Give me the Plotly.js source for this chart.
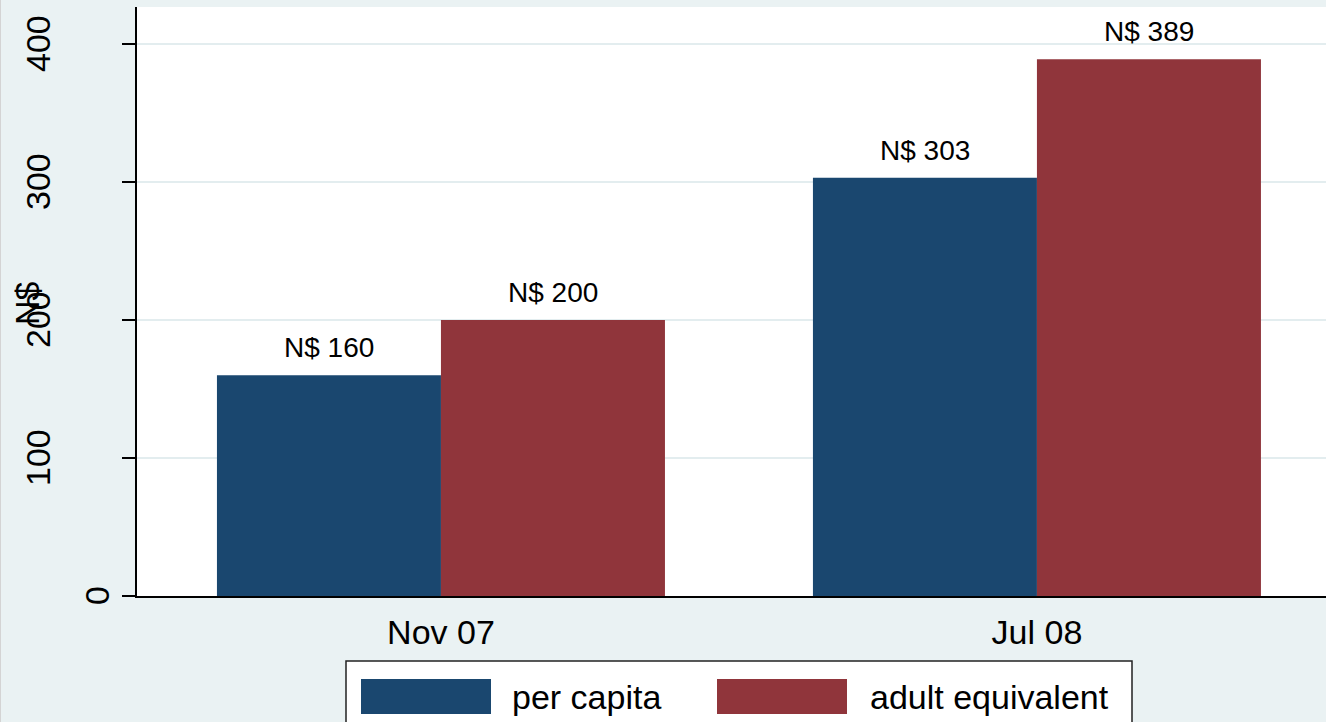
<!DOCTYPE html>
<html>
<head>
<meta charset="utf-8">
<script src="https://cdn.plot.ly/plotly-3.0.1.min.js"></script>
<style>
  html, body { margin: 0; padding: 0; background: #EAF2F3; }
  #chart { width: 1326px; height: 722px; }
</style>
</head>
<body>
<div id="chart"></div>
<script>
const categories = ['Nov 07', 'Jul 08'];
const perCapita = [160, 303];
const adultEquivalent = [200, 389];
const seriesNames = ['per capita', 'adult equivalent'];
const seriesColors = ['#1A476F', '#90353B'];
const yTickVals = [0, 100, 200, 300, 400];
const yTickText = ['0', '100', '200', '300', '400'];
const yTitle = 'N$';
const labelPrefix = 'N$ ';

const FONT = 'Liberation Sans, Arial, sans-serif';
const W = 1326, H = 722;
const M = {l: 137, r: 0, t: 7, b: 126};
const plotW = W - M.l - M.r, plotH = H - M.t - M.b;
const px2x = px => (px - M.l) / plotW;
const py2y = py => (H - M.b - py) / plotH;

const series = [perCapita, adultEquivalent];

const traces = series.map((vals, i) => ({
  type: 'bar',
  x: categories,
  y: vals,
  name: seriesNames[i],
  marker: {color: seriesColors[i], line: {width: 0}},
  hoverinfo: 'x+y+name'
}));

const annotations = [];
// bar value labels
series.forEach((vals, i) => {
  vals.forEach((v, j) => {
    annotations.push({
      x: categories[j], y: v, xref: 'x', yref: 'y',
      text: labelPrefix + v, showarrow: false,
      xanchor: 'center', yanchor: 'bottom',
      xshift: (i === 0 ? -1 : 1) * 112, yshift: 10,
      font: {family: FONT, size: 28, color: '#000'}
    });
  });
});
// y tick labels (rotated, Stata-style placement)
yTickVals.forEach((v, k) => {
  const t = yTickText[k];
  const cx = 97 - 29.5 * (t.length - 1);
  annotations.push({
    x: 0, xref: 'paper', y: v, yref: 'y',
    xshift: cx - M.l,
    text: t, showarrow: false, textangle: -90,
    xanchor: 'center', yanchor: 'middle',
    font: {family: FONT, size: 34, color: '#000'}
  });
});
// y axis title
annotations.push({
  x: 0, xref: 'paper', y: py2y(303), yref: 'paper',
  xshift: 27 - M.l,
  text: yTitle, showarrow: false, textangle: -90,
  xanchor: 'center', yanchor: 'middle',
  font: {family: FONT, size: 34, color: '#000'}
});

// custom legend
const shapes = [];
shapes.push({
  type: 'rect', xref: 'paper', yref: 'paper',
  x0: px2x(346), x1: px2x(1132), y0: py2y(760), y1: py2y(661),
  fillcolor: '#FFFFFF', line: {color: '#222', width: 1.5}, layer: 'above'
});
const swatchX = [361, 717];
const textX = [510, 868];
seriesNames.forEach((name, i) => {
  shapes.push({
    type: 'rect', xref: 'paper', yref: 'paper',
    x0: px2x(swatchX[i]), x1: px2x(swatchX[i] + 130),
    y0: py2y(714), y1: py2y(679),
    fillcolor: seriesColors[i], line: {width: 0}, layer: 'above'
  });
  annotations.push({
    x: px2x(textX[i]), xref: 'paper', y: py2y(697), yref: 'paper',
    text: name, showarrow: false, xanchor: 'left', yanchor: 'middle',
    font: {family: FONT, size: 34, color: '#000'}
  });
});
// thin left page edge
shapes.push({
  type: 'line', xref: 'paper', yref: 'paper',
  x0: px2x(0.5), x1: px2x(0.5), y0: -1, y1: 2,
  line: {color: '#D4D4D4', width: 1}
});

const layout = {
  width: W, height: H,
  margin: M,
  paper_bgcolor: '#EAF2F3',
  plot_bgcolor: '#FFFFFF',
  barmode: 'group',
  bargap: 0.2483,
  bargroupgap: 0,
  showlegend: false,
  font: {family: FONT, size: 34, color: '#000'},
  xaxis: {
    type: 'category',
    range: [-0.51, 1.485],
    showline: true, linecolor: '#000', linewidth: 2,
    ticks: '', showgrid: false, zeroline: false,
    tickfont: {family: FONT, size: 34, color: '#000'},
    ticklabelstandoff: 5
  },
  yaxis: {
    range: [0, 426.8],
    tickvals: yTickVals,
    showticklabels: false,
    ticks: 'outside', ticklen: 13, tickwidth: 2, tickcolor: '#000',
    showline: true, linecolor: '#000', linewidth: 2,
    showgrid: true, gridcolor: '#E3EDEF', gridwidth: 2.5,
    zeroline: false
  },
  annotations: annotations,
  shapes: shapes
};

Plotly.newPlot('chart', traces, layout, {displayModeBar: false, staticPlot: true});
</script>
</body>
</html>
